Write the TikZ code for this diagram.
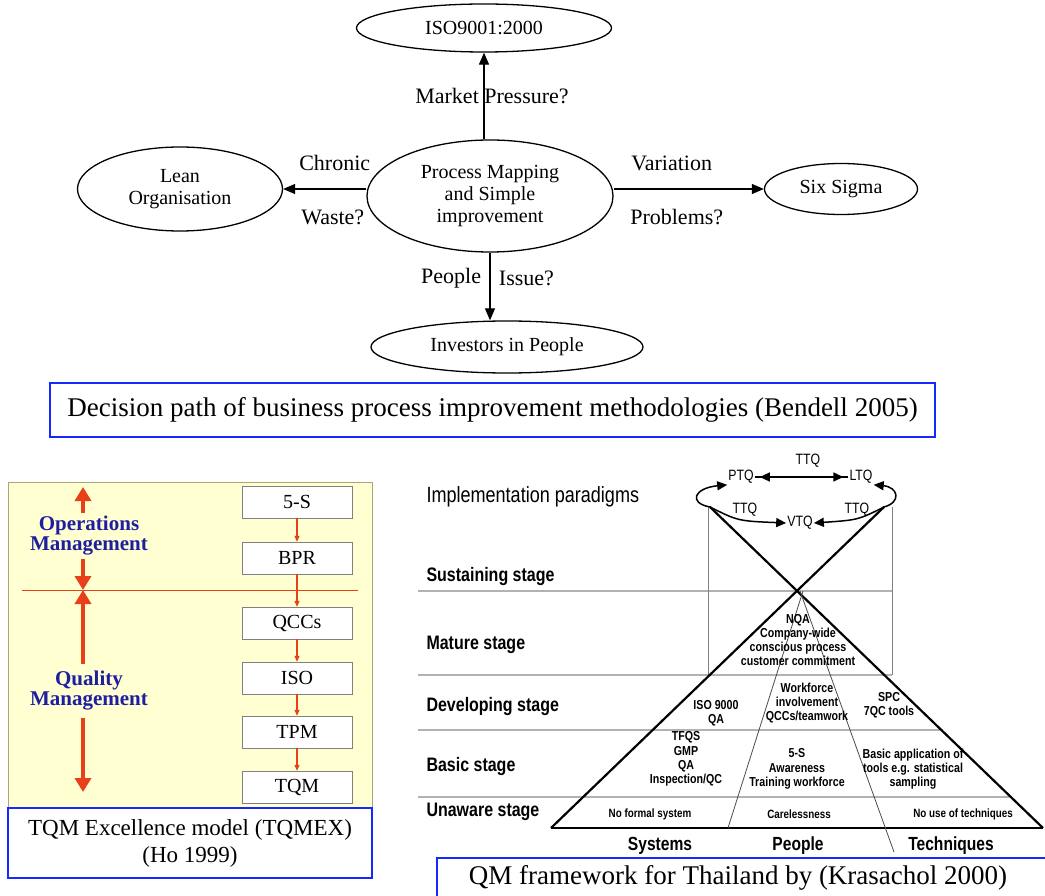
\documentclass[tikz,border=0pt]{standalone}
\usepackage{fontspec}
\setmainfont{Liberation Serif}
\newfontfamily\narrowsf[FakeStretch=0.82]{Liberation Sans}
\usetikzlibrary{arrows.meta,shapes.geometric}
\definecolor{hoyellow}{RGB}{255,255,210}
\definecolor{hoedge}{RGB}{170,165,120}
\definecolor{hored}{RGB}{232,64,24}
\definecolor{hoblue}{RGB}{30,30,160}
\definecolor{capblue}{RGB}{20,40,255}
\definecolor{stagegray}{RGB}{178,178,178}
\newcommand{\pxfont}[2]{\fontsize{#1}{#2}\selectfont}
\begin{document}
\begin{tikzpicture}[x=1pt,y=-1pt,
  bubble/.style={ellipse, draw, line width=1.3pt, inner sep=0pt, align=center, font=\pxfont{20}{22}},
  edgelbl/.style={font=\pxfont{22}{24}},
  arr/.style={line width=1.2pt, -{Triangle[length=12pt,width=10pt]}},
  capbox/.style={draw=capblue, line width=1.5pt, fill=white},
  stepbox/.style={draw=gray, fill=white, minimum width=110pt, minimum height=32pt, font=\pxfont{20}{22}},
  smallarr/.style={hored, line width=1.2pt, -{Triangle[length=6pt,width=5pt]}},
  bigarr/.style={hored, line width=4.5pt, {Triangle[length=14pt,width=16pt]}-{Triangle[length=14pt,width=16pt]}},
  mgmt/.style={text=hoblue, font=\bfseries\pxfont{21}{20}, align=center, fill=hoyellow, inner sep=3pt},
  stage/.style={anchor=west, font=\narrowsf\bfseries\pxfont{19.5}{21}},
  paradigm/.style={font=\narrowsf\pxfont{15}{16}, inner sep=1pt},
  looparr/.style={line width=1.5pt, -{Triangle[length=10pt,width=9pt]}},
  pyr/.style={font=\narrowsf\bfseries\pxfont{13}{14.3}, align=center, inner sep=0pt},
  unaware/.style={font=\narrowsf\bfseries\pxfont{12}{13}, inner sep=0pt},
  pillar/.style={font=\narrowsf\bfseries\pxfont{19}{20}, inner sep=0pt}]
\useasboundingbox (0,0) rectangle (1045,896);

% decision path (Bendell)
\node[bubble, minimum width=255pt, minimum height=48pt] (iso) at (484,28) {ISO9001:2000};
\node[bubble, minimum width=246pt, minimum height=112pt] (pm) at (490,196) {Process Mapping\\and Simple\\improvement};
\node[bubble, minimum width=205pt, minimum height=84pt] (lean) at (180,189) {Lean\\Organisation};
\node[bubble, minimum width=153pt, minimum height=51pt] (six) at (841,189) {Six Sigma};
\node[bubble, minimum width=272pt, minimum height=52pt] (iip) at (507,347) {Investors in People};

\draw[arr] (pm.north -| iso.south) -- node[edgelbl, xshift=8pt] {Market Pressure?} (iso.south);
\draw[arr] (pm.west |- lean) -- node[edgelbl, xshift=10pt, yshift=26pt] {Chronic}
  node[edgelbl, xshift=8pt, yshift=-28pt] {Waste?} (lean.east);
\draw[arr] (pm.east |- six) -- node[edgelbl, xshift=-17pt, yshift=26pt] {Variation}
  node[edgelbl, xshift=-12pt, yshift=-28pt] {Problems?} (six.west);
\draw[arr] (pm.south) -- node[edgelbl, left=5pt, yshift=8pt] {People}
  node[edgelbl, right=5pt, yshift=8pt] {Issue?} (pm.south |- iip.north);

\node[capbox, minimum width=885pt, minimum height=54pt, font=\pxfont{27}{29}] (bendell) at (492.5,410)
  {Decision path of business process improvement methodologies (Bendell 2005)};

% TQMEX (Ho)
\draw[fill=hoyellow, draw=hoedge] (8,482) rectangle (372,808);
\draw[hored, line width=1pt] (22,590) -- (358,590);
\node[stepbox] (s5) at (297,502) {5-S};
\node[stepbox] (bpr) at (297,558) {BPR};
\node[stepbox] (qcc) at (297,623) {QCCs};
\node[stepbox] (isob) at (297,678) {ISO};
\node[stepbox] (tpm) at (297,732) {TPM};
\node[stepbox] (tqm) at (297,787) {TQM};
\foreach \a/\b in {s5/bpr, bpr/qcc, qcc/isob, isob/tpm, tpm/tqm}
  \draw[smallarr] (\a.south) -- (\b.north);
\coordinate (omtop) at (83,487);
\coordinate (omqm) at (83,590);
\coordinate (qmbot) at (83,792);
\draw[bigarr] (omtop) -- (omqm);
\draw[bigarr] (omqm) -- (qmbot);
\node[mgmt] (om) at (89,536) {Operations\\Management};
\node[mgmt, inner sep=7pt] (qm) at (89,691) {Quality\\Management};
\node[capbox, minimum width=364pt, minimum height=70pt, align=center, font=\pxfont{23}{27}] (hocap) at (190,843)
  {TQM Excellence model (TQMEX)\\(Ho 1999)};

% QM framework (Krasachol)
\draw[stagegray, line width=1.5pt] (418,591) -- (892,591);
\draw[stagegray, line width=1.5pt] (418,675) -- (892,675);
\draw[stagegray, line width=1.5pt] (418,730) -- (943,730);
\draw[stagegray, line width=1.5pt] (418,797) -- (1012,797);
\draw[gray, line width=0.8pt] (708,507) -- (708,675);
\draw[gray, line width=0.8pt] (892,507) -- (892,675);
\coordinate (apex) at (797,591);
\coordinate (bl) at (551,828);
\coordinate (br) at (1043,828);
\coordinate (lt) at (710,507);
\coordinate (rt) at (884,507);
\draw[line width=2.2pt] (bl) -- (br);
\draw[line width=2.2pt] (bl) -- (rt);
\draw[line width=2.2pt] (br) -- (lt);
\draw[black!70, line width=0.8pt] (803,591) -- (728,828);
\draw[black!70, line width=0.8pt] (800,591) -- (894,852);

\node[anchor=west, font=\narrowsf\pxfont{22}{23}] (impl) at (423,497) {Implementation paradigms};
\node[stage] (sust) at (423,576) {Sustaining stage};
\node[stage] (mat) at (423,645) {Mature stage};
\node[stage] (dev) at (423,706) {Developing stage};
\node[stage] (bas) at (423,766) {Basic stage};
\node[stage] (una) at (423,812) {Unaware stage};

\node[paradigm] (ttqtop) at (808,461) {TTQ};
\node[paradigm] (ptq) at (741,477) {PTQ};
\node[paradigm] (ltq) at (861,477) {LTQ};
\node[paradigm] (ttql) at (745,510) {TTQ};
\node[paradigm] (vtq) at (800,523) {VTQ};
\node[paradigm] (ttqr) at (857,510) {TTQ};
\draw[line width=1.2pt] (ptq.east) -- (ltq.west);
\draw[line width=1.6pt, {Triangle[length=10pt,width=9pt]}-{Triangle[length=10pt,width=9pt]},
  shorten <=5pt, shorten >=5pt] (ptq.east) -- (ltq.west);
\draw[looparr] (lt) .. controls (688,503) and (694,488) .. (ptq.south west);
\draw[looparr] (rt) .. controls (902,502) and (898,487) .. (ltq.south east);
\draw[looparr] (lt) .. controls (738,521) .. (vtq.west);
\draw[looparr] (rt) .. controls (858,520) .. (vtq.east);

\node[pyr] (nqa) at (798,640) {NQA\\Company-wide\\conscious process\\customer commitment};
\node[pyr] (isoqa) at (716,713) {ISO 9000\\QA};
\node[pyr] (wf) at (807,703) {Workforce\\involvement\\QCCs/teamwork};
\node[pyr] (spc) at (889,705) {SPC\\7QC tools};
\node[pyr] (tfqs) at (686,759) {TFQS\\GMP\\QA\\Inspection/QC};
\node[pyr] (aware) at (797,769) {5-S\\Awareness\\Training workforce};
\node[pyr] (basic) at (913,769) {Basic application of\\tools e.g. statistical\\sampling};
\node[unaware] (nfs) at (650,814) {No formal system};
\node[unaware] (care) at (799,814) {Carelessness};
\node[unaware] (nut) at (963,814) {No use of techniques};
\node[pillar] (sys) at (660,846) {Systems};
\node[pillar] (peo) at (798,846) {People};
\node[pillar] (tec) at (951,846) {Techniques};

\draw[capblue, line width=1.5pt] (437,905) -- (437,858) -- (1052,858);
\node[font=\pxfont{27}{29}] (qmcap) at (738,878) {QM framework for Thailand by (Krasachol 2000)};
\end{tikzpicture}
\end{document}
